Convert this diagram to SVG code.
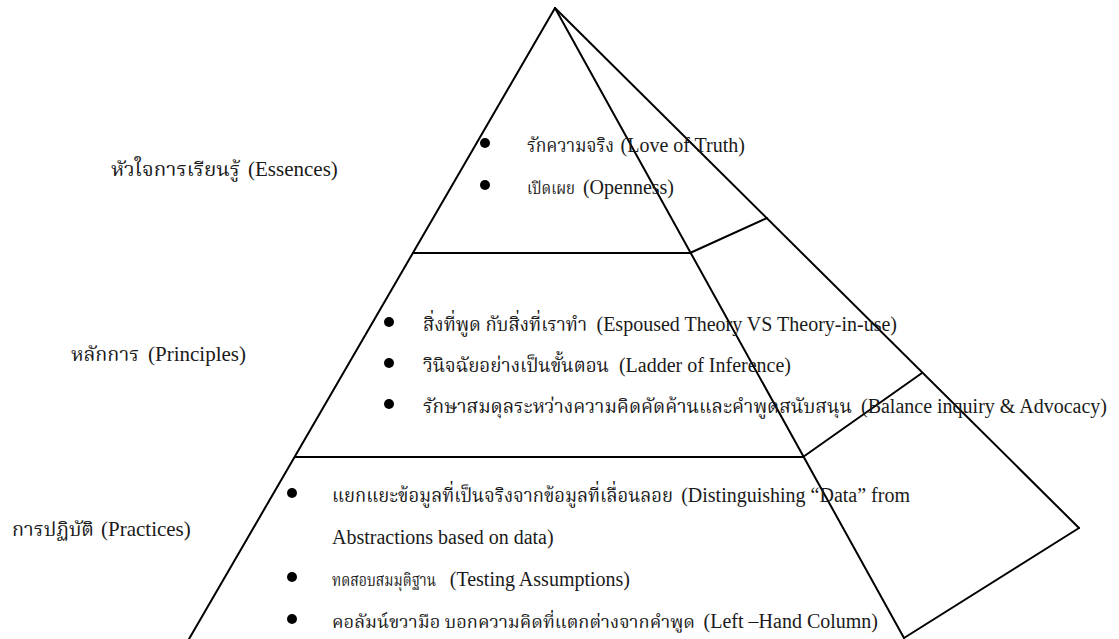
<svg xmlns="http://www.w3.org/2000/svg" width="1119" height="639" viewBox="0 0 1119 639">
<style>
.ln{stroke:#000;stroke-width:2;fill:none;stroke-linecap:round}
.lat{font-family:"Liberation Serif","Times New Roman",serif;font-size:20px;fill:#1a1a1a}
.lab{font-size:21px}
.th{font-family:"Liberation Serif","Noto Serif Thai","Noto Sans Thai","Norasi","Garuda","Loma",serif;font-size:20px;fill:#1a1a1a}
.sm{font-size:17px}
.bl{fill:#000}
</style>
<rect width="1119" height="639" fill="#fff"/>
<g id="connectors">
<line class="ln" x1="555" y1="8" x2="189" y2="639"/>
<line class="ln" x1="555" y1="8" x2="904" y2="638"/>
<line class="ln" x1="555" y1="8" x2="1079" y2="528"/>
<line class="ln" x1="1079" y1="528" x2="904" y2="638"/>
<line class="ln" x1="413" y1="253" x2="690" y2="253"/>
<line class="ln" x1="295" y1="457" x2="803" y2="457"/>
<line class="ln" x1="690" y1="253" x2="767" y2="218"/>
<line class="ln" x1="803" y1="457" x2="922" y2="373"/>
</g>
<g id="label-essences">
<text class="th" x="111" y="176" textLength="129" lengthAdjust="spacingAndGlyphs">หัวใจการเรียนรู้</text>
<text class="lat lab" x="248" y="176">(Essences)</text>
</g>
<g id="label-principles">
<text class="th" x="71" y="361" textLength="68" lengthAdjust="spacingAndGlyphs">หลักการ</text>
<text class="lat lab" x="148" y="361">(Principles)</text>
</g>
<g id="label-practices">
<text class="th" x="12" y="536" textLength="82" lengthAdjust="spacingAndGlyphs">การปฏิบัติ</text>
<text class="lat lab" x="101" y="536">(Practices)</text>
</g>
<g id="tier-essences">
<circle class="bl" cx="485" cy="143" r="5"/>
<text class="th" x="527" y="152" textLength="87" lengthAdjust="spacingAndGlyphs">รักความจริง</text>
<text class="lat" x="745" y="152" text-anchor="end">(Love of Truth)</text>
<circle class="bl" cx="485" cy="185" r="5"/>
<text class="th sm" x="527" y="194" textLength="48" lengthAdjust="spacingAndGlyphs">เปิดเผย</text>
<text class="lat" x="674" y="194" text-anchor="end">(Openness)</text>
</g>
<g id="tier-principles">
<circle class="bl" cx="389" cy="322" r="5"/>
<text class="th" x="423" y="331" textLength="164" lengthAdjust="spacingAndGlyphs">สิ่งที่พูด กับสิ่งที่เราทำ</text>
<text class="lat" x="897" y="331" text-anchor="end">(Espoused Theory VS Theory-in-use)</text>
<circle class="bl" cx="389" cy="363" r="5"/>
<text class="th" x="423" y="372" textLength="186" lengthAdjust="spacingAndGlyphs">วินิจฉัยอย่างเป็นขั้นตอน</text>
<text class="lat" x="791" y="372" text-anchor="end">(Ladder of Inference)</text>
<circle class="bl" cx="389" cy="404" r="5"/>
<text class="th" x="423" y="413" textLength="429" lengthAdjust="spacingAndGlyphs">รักษาสมดุลระหว่างความคิดคัดค้านและคำพูดสนับสนุน</text>
<text class="lat" x="1107" y="413" text-anchor="end">(Balance inquiry &amp; Advocacy)</text>
</g>
<g id="tier-practices">
<circle class="bl" cx="292" cy="493" r="5"/>
<text class="th" x="332" y="502" textLength="341" lengthAdjust="spacingAndGlyphs">แยกแยะข้อมูลที่เป็นจริงจากข้อมูลที่เลื่อนลอย</text>
<text class="lat" x="910" y="502" text-anchor="end">(Distinguishing “Data” from</text>
<text class="lat" x="332" y="544">Abstractions based on data)</text>
<circle class="bl" cx="292" cy="577" r="5"/>
<text class="th sm" x="332" y="586" textLength="104" lengthAdjust="spacingAndGlyphs">ทดสอบสมมุติฐาน</text>
<text class="lat" x="630" y="586" text-anchor="end">(Testing Assumptions)</text>
<circle class="bl" cx="292" cy="619" r="5"/>
<text class="th sm" x="332" y="628" textLength="363" lengthAdjust="spacingAndGlyphs">คอลัมน์ขวามือ บอกความคิดที่แตกต่างจากคำพูด</text>
<text class="lat" x="878" y="628" text-anchor="end">(Left –Hand Column)</text>
</g>
</svg>
